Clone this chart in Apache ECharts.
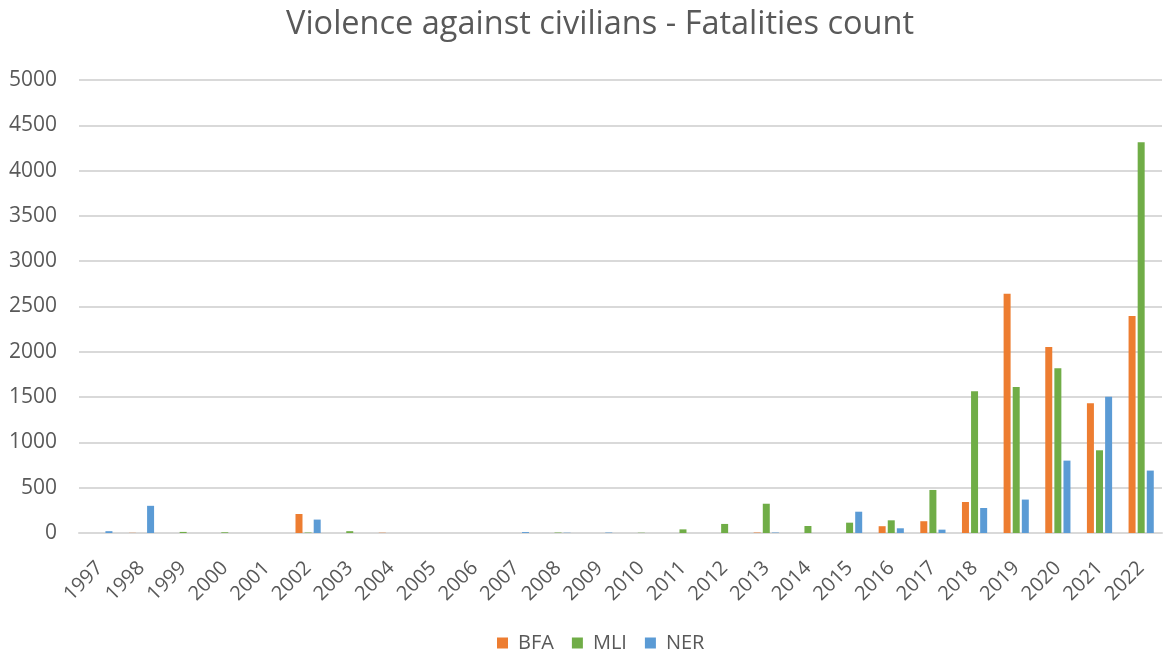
<!DOCTYPE html>
<html>
<head>
<meta charset="utf-8">
<script src="https://cdn.jsdelivr.net/npm/echarts@6/dist/echarts.min.js"></script>
<style>
  html, body { margin: 0; padding: 0; background: #fff; }
  #chart { width: 1171px; height: 655px; }
</style>
</head>
<body>
<div id="chart"></div>
<script>
// categories (years)
const years = ['1997','1998','1999','2000','2001','2002','2003','2004','2005','2006','2007','2008','2009',
  '2010','2011','2012','2013','2014','2015','2016','2017','2018','2019','2020','2021','2022'];
// fatalities per country
const bfa = [0, 2, 0, 0, 0, 210, 0, 3, 0, 0, 0, 0, 0, 0, 0, 0, 5, 0, 0, 75, 130, 342, 2642, 2053, 1432, 2395];
const mli = [0, 0, 12, 8, 0, 5, 20, 0, 0, 0, 0, 5, 0, 3, 40, 100, 323, 77, 114, 140, 475, 1564, 1611, 1818, 913, 4312];
const ner = [20, 300, 0, 0, 0, 148, 0, 0, 0, 0, 10, 3, 5, 0, 0, 0, 5, 0, 235, 52, 37, 276, 369, 799, 1505, 689];

const textColor = '#595959';
const fontFamily = '"Open Sans", "Liberation Sans", sans-serif';

let myChart = echarts.init(document.getElementById('chart'));
let option = {
  animation: false,
  textStyle: { fontFamily: fontFamily },
  title: {
    text: 'Violence against civilians - Fatalities count',
    left: 281,
    top: 3,
    textStyle: { color: textColor, fontSize: 32.5, fontWeight: 'normal', fontFamily: fontFamily }
  },
  legend: {
    data: ['BFA', 'MLI', 'NER'],
    bottom: 2,
    left: 497,
    padding: 0,
    itemWidth: 11,
    itemHeight: 11,
    itemGap: 18,
    icon: 'rect',
    textStyle: { color: textColor, fontSize: 20, fontFamily: fontFamily, padding: [0, 0, 0, 5] }
  },
  grid: {
    left: 79,
    right: 9,
    top: 80,
    bottom: 122
  },
  xAxis: [{
    type: 'category',
    data: years,
    axisTick: { show: false },
    axisLine: { lineStyle: { color: '#d9d9d9', width: 2 } },
    axisLabel: {
      interval: 0,
      rotate: 45,
      margin: 32,
      color: textColor,
      fontSize: 20,
      fontFamily: fontFamily
    }
  }],
  yAxis: [{
    type: 'value',
    min: 0,
    max: 5000,
    interval: 500,
    axisLine: { show: false },
    axisTick: { show: false },
    splitLine: { lineStyle: { color: '#d9d9d9', width: 2 } },
    axisLabel: {
      color: textColor, fontSize: 21, margin: 22, fontFamily: fontFamily,
      formatter: function (v) { return String(v); }
    }
  }],
  series: [
    { name: 'BFA', type: 'bar', data: bfa, barWidth: 7, barGap: '30%', itemStyle: { color: '#ED7D31' } },
    { name: 'MLI', type: 'bar', data: mli, barWidth: 7, barGap: '30%', itemStyle: { color: '#70AD47' } },
    { name: 'NER', type: 'bar', data: ner, barWidth: 7, barGap: '30%', itemStyle: { color: '#5B9BD5' } }
  ]
};
myChart.setOption(option);
</script>
</body>
</html>
